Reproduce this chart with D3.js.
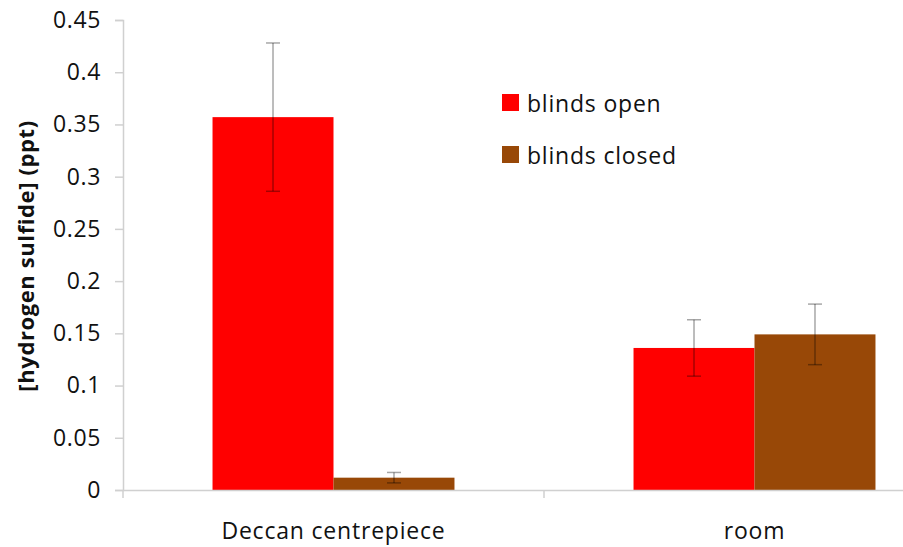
<!DOCTYPE html>
<html>
<head>
<meta charset="utf-8">
<script src="https://cdn.jsdelivr.net/npm/d3@7"></script>
<style>
  html, body { margin: 0; padding: 0; background: #fff; }
  svg { display: block; font-family: "Open Sans", sans-serif; }
</style>
</head>
<body>
<svg id="chart" width="903" height="547"></svg>
<script>
const categories = ['Deccan centrepiece', 'room'];
const series = ['blinds open', 'blinds closed'];
const colors = ['#ff0000', '#984807'];
// mean values per category, one array per series
const openValues = [0.357, 0.136];
const closedValues = [0.0118, 0.149];
// error bar half-widths
const openErrors = [0.071, 0.027];
const closedErrors = [0.005, 0.029];
const yTicks = [0, 0.05, 0.1, 0.15, 0.2, 0.25, 0.3, 0.35, 0.4, 0.45];

const svg = d3.select('#chart');
const plotLeft = 123, plotRight = 965, plotTop = 20, plotBottom = 490;

const y = d3.scaleLinear().domain([0, 0.45]).range([plotBottom, plotTop]);
const x0 = d3.scaleBand().domain(categories).range([plotLeft, plotRight]).padding(0);
const x1 = d3.scaleBand().domain(series).range([0, x0.bandwidth()])
    .paddingInner(0).paddingOuter(0.74);
const color = d3.scaleOrdinal().domain(series).range(colors);

const rows = categories.map((c, i) => ({
    category: c,
    items: [
        { key: series[0], value: openValues[i], err: openErrors[i] },
        { key: series[1], value: closedValues[i], err: closedErrors[i] },
    ],
}));

// y axis
const yAxis = svg.append('g')
    .attr('transform', `translate(${plotLeft},0)`)
    .call(d3.axisLeft(y).tickValues(yTicks).tickSize(8).tickPadding(14)
        .tickFormat(d3.format('')));
yAxis.select('.domain').attr('stroke', '#d0d0d0').attr('stroke-width', 1.5);
yAxis.selectAll('.tick line').attr('stroke', '#d0d0d0').attr('stroke-width', 1.5);
yAxis.selectAll('.tick text')
    .attr('font-family', '"Open Sans", sans-serif')
    .attr('font-size', 23).attr('letter-spacing', 0.6).attr('fill', '#111');

// bars
const groups = svg.append('g').selectAll('g')
    .data(rows).join('g')
    .attr('transform', d => `translate(${x0(d.category)},0)`);

groups.selectAll('rect')
    .data(d => d.items).join('rect')
    .attr('x', d => x1(d.key))
    .attr('y', d => y(d.value))
    .attr('width', x1.bandwidth())
    .attr('height', d => y(0) - y(d.value))
    .attr('fill', d => color(d.key));

// x axis
const xAxis = svg.append('g')
    .attr('transform', `translate(0,${plotBottom})`)
    .call(d3.axisBottom(x0).tickSize(0).tickPadding(33).tickSizeOuter(0));
xAxis.select('.domain').attr('stroke', '#d0d0d0').attr('stroke-width', 1.5);
xAxis.selectAll('.tick text')
    .attr('font-family', '"Open Sans", sans-serif')
    .attr('font-size', 23).attr('letter-spacing', 0.8).attr('fill', '#111');
// category separators
svg.append('g').selectAll('line')
    .data([...categories.map(c => x0(c)), plotRight]).join('line')
    .attr('x1', d => d).attr('x2', d => d)
    .attr('y1', plotBottom).attr('y2', plotBottom + 8)
    .attr('stroke', '#d0d0d0').attr('stroke-width', 1.5);

// error bars
const errG = groups.selectAll('g.err')
    .data(d => d.items).join('g')
    .attr('class', 'err')
    .attr('stroke', 'rgba(0,0,0,0.35)')
    .attr('stroke-width', 1.5);
const cx = d => x1(d.key) + x1.bandwidth() / 2;
errG.append('line')
    .attr('x1', cx).attr('x2', cx)
    .attr('y1', d => y(d.value + d.err)).attr('y2', d => y(d.value - d.err));
errG.append('line')
    .attr('x1', d => cx(d) - 7).attr('x2', d => cx(d) + 7)
    .attr('y1', d => y(d.value + d.err)).attr('y2', d => y(d.value + d.err));
errG.append('line')
    .attr('x1', d => cx(d) - 7).attr('x2', d => cx(d) + 7)
    .attr('y1', d => y(d.value - d.err)).attr('y2', d => y(d.value - d.err));

// y label
svg.append('text')
    .attr('transform', 'translate(34,256) rotate(-90)')
    .attr('text-anchor', 'middle')
    .attr('font-family', '"Open Sans", sans-serif')
    .attr('font-weight', 'bold')
    .attr('font-size', 22)
    .attr('letter-spacing', 0.6)
    .attr('fill', '#111')
    .text('[hydrogen sulfide] (ppt)');

// legend
const legend = svg.append('g').selectAll('g')
    .data(series).join('g')
    .attr('transform', (d, i) => `translate(502,${94 + i * 52})`);
legend.append('rect')
    .attr('width', 17).attr('height', 17)
    .attr('fill', d => color(d));
legend.append('text')
    .attr('x', 25).attr('y', 18)
    .attr('font-family', '"Open Sans", sans-serif')
    .attr('font-size', 23).attr('letter-spacing', 0.8).attr('fill', '#111')
    .text(d => d);
</script>
</body>
</html>
